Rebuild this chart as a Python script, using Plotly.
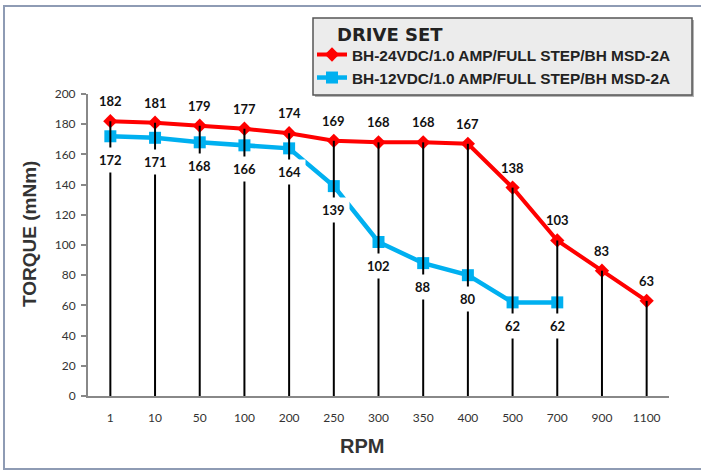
import plotly.graph_objects as go

rpm = ["1", "10", "50", "100", "200", "250", "300", "350", "400", "500", "700", "900", "1100"]
torque_24v = [182, 181, 179, 177, 174, 169, 168, 168, 167, 138, 103, 83, 63]
torque_12v = [172, 171, 168, 166, 164, 139, 102, 88, 80, 62, 62, None, None]
name_24v = "BH-24VDC/1.0 AMP/FULL STEP/BH MSD-2A"
name_12v = "BH-12VDC/1.0 AMP/FULL STEP/BH MSD-2A"
y_ticks = list(range(0, 201, 20))

RED = "#ff0000"
BLUE = "#00b0f0"
W, H = 701, 473
L, R, T, B = 88, 32, 94, 77
PW, PH = W - L - R, H - T - B


def px(xp):
    return (xp - L) / PW


def py(yp):
    return (H - B - yp) / PH


fig = go.Figure()

fig.add_trace(go.Scatter(
    x=rpm, y=torque_24v, name=name_24v, mode="lines+markers",
    line=dict(color=RED, width=4),
    marker=dict(symbol="diamond", size=11, color=RED),
))
fig.add_trace(go.Scatter(
    x=rpm, y=torque_12v, name=name_12v, mode="lines+markers",
    line=dict(color=BLUE, width=4.5),
    marker=dict(symbol="square", size=12, color=BLUE),
))

# drop lines from the highest value of each category down to zero
dx, dy = [], []
for c, a, b in zip(rpm, torque_24v, torque_12v):
    top = max(v for v in (a, b) if v is not None)
    dx += [c, c, None]
    dy += [top, 0, None]
fig.add_trace(go.Scatter(x=dx, y=dy, mode="lines", line=dict(color="black", width=2),
                         showlegend=False, hoverinfo="skip", connectgaps=False))

lab_font = dict(family="Lato", size=13, color="#111111", weight="bold")
for i, v in enumerate(torque_24v):
    fig.add_annotation(x=i, y=v, text=str(v), showarrow=False, yshift=20, font=lab_font,
                       xanchor="center", yanchor="middle")
for i, v in enumerate(torque_12v):
    if v is None:
        continue
    fig.add_annotation(x=i, y=v, text=str(v), showarrow=False, yshift=-24, font=lab_font,
                       xanchor="center", yanchor="middle", bgcolor="white", borderpad=4)

# axis titles
fig.add_annotation(xref="paper", yref="paper", x=px(362), y=py(446), text="RPM", showarrow=False,
                   xanchor="center", yanchor="middle",
                   font=dict(family="Liberation Sans", size=20, color="#333333", weight="bold"))
fig.add_annotation(xref="paper", yref="paper", x=px(29), y=py(234), text="TORQUE (mNm)", showarrow=False,
                   textangle=-90, xanchor="center", yanchor="middle",
                   font=dict(family="Liberation Sans", size=19, color="#333333", weight="bold"))

# outer frame
fig.add_shape(type="rect", xref="paper", yref="paper", x0=px(4), x1=px(712), y0=py(469), y1=py(6),
              line=dict(color="#8e9bb4", width=2), fillcolor="rgba(0,0,0,0)", layer="below")

# legend box with shadow
fig.add_shape(type="rect", xref="paper", yref="paper", x0=px(315), x1=px(694), y0=py(97), y1=py(20),
              line=dict(width=0), fillcolor="#b4b4b4", layer="below")
fig.add_shape(type="rect", xref="paper", yref="paper", x0=px(313), x1=px(692), y0=py(95), y1=py(18),
              line=dict(color="#555555", width=1.5), fillcolor="#ececec", layer="below")
fig.add_annotation(xref="paper", yref="paper", x=px(335), y=py(34), xanchor="left", yanchor="middle",
                   text="DRIVE SET", showarrow=False,
                   font=dict(family="DejaVu Sans", size=18, color="#222222", weight="bold"))

fig.update_layout(
    width=W, height=H,
    margin=dict(l=L, r=R, t=T, b=B),
    paper_bgcolor="white", plot_bgcolor="white",
    showlegend=True,
    legend=dict(x=px(312), y=py(38), xanchor="left", yanchor="top",
                bgcolor="rgba(0,0,0,0)", borderwidth=0,
                font=dict(family="Liberation Sans", size=15.4, color="#222222", weight="bold"),
                itemwidth=30, tracegroupgap=0),
    xaxis=dict(type="category", categoryorder="array", categoryarray=rpm,
               showgrid=False, zeroline=False, showline=True, linecolor="#888888", linewidth=2,
               ticks="", ticklabelstandoff=10,
               tickfont=dict(family="Lato", size=12, color="#333333"),
               range=[-0.5, len(rpm) - 0.5]),
    yaxis=dict(range=[0, 200], tickvals=y_ticks, showgrid=False, zeroline=False,
               showline=True, linecolor="#888888", linewidth=2,
               ticks="outside", ticklen=5, tickcolor="#888888", tickwidth=1.5,
               ticklabelstandoff=3,
               tickfont=dict(family="Lato", size=12, color="#333333")),
)

fig.write_html("out.html", config={"displayModeBar": False},
               post_script="document.body.style.margin='0';document.body.style.padding='0';")
